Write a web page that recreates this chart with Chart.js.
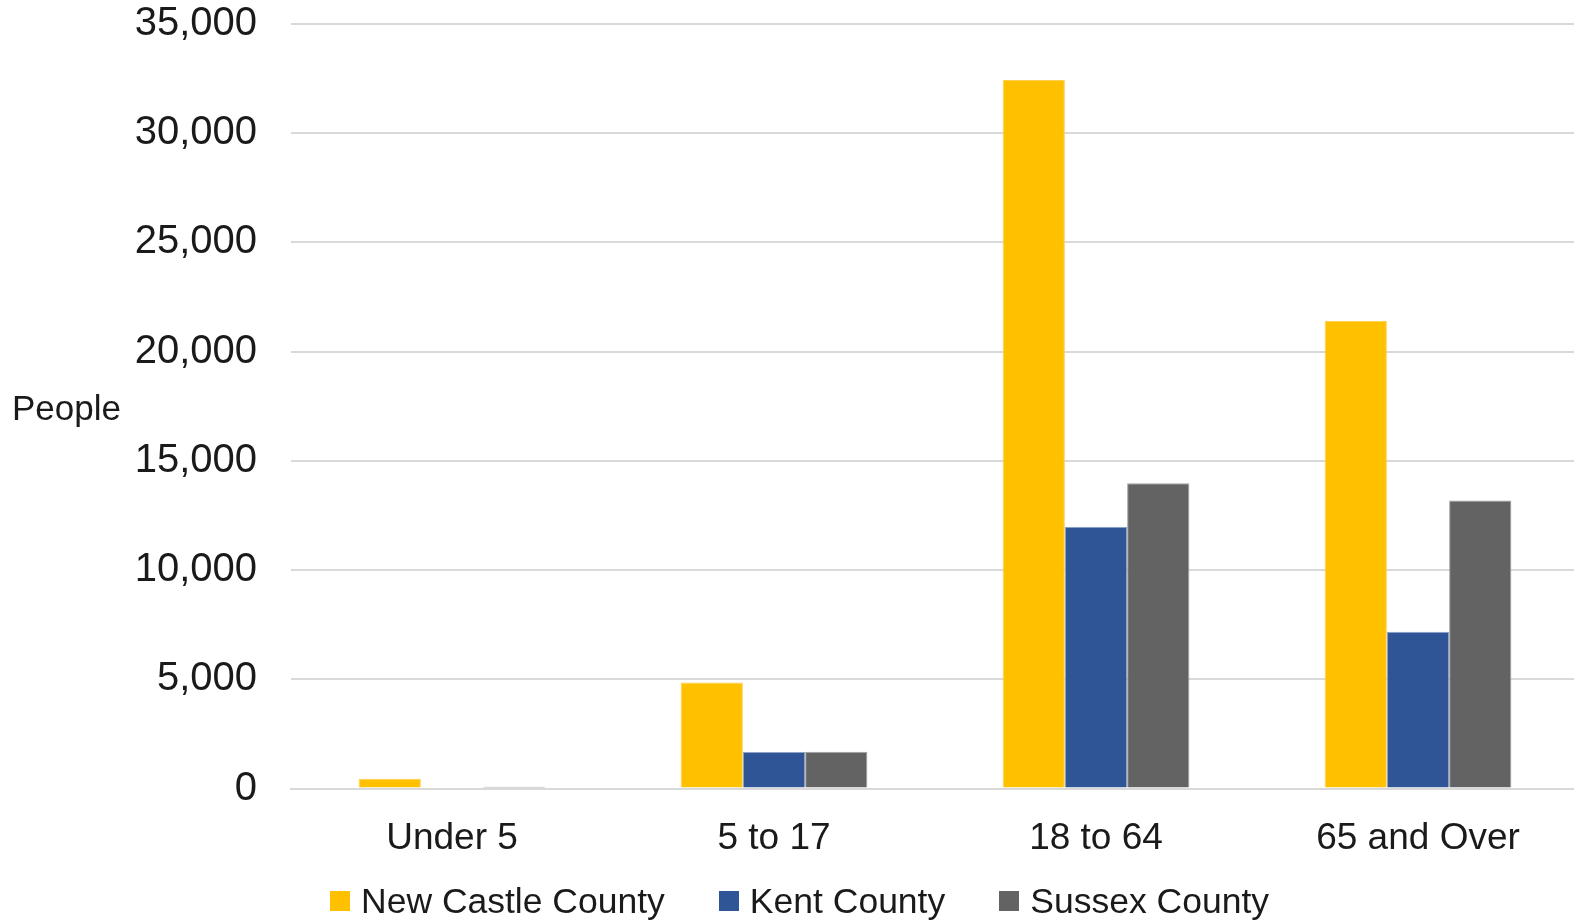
<!DOCTYPE html>
<html>
<head>
<meta charset="utf-8">
<script src="https://cdn.jsdelivr.net/npm/chart.js@4"></script>
<style>
  html, body { margin: 0; padding: 0; background: #fff; overflow: hidden; }
  #wrap { width: 1574px; height: 923px; position: relative; overflow: hidden; }
  #chartBox { position: absolute; left: 0; top: 0; width: 1579px; height: 891px; }
  #legend {
    position: absolute; left: 330px; top: 880px; height: 42px;
    display: flex; align-items: center;
    font-family: 'Liberation Sans', Arial, sans-serif; font-size: 35.5px; color: #1a1a1a;
  }
  .item { display: flex; align-items: center; margin-right: 54px; white-space: nowrap; }
  .box { width: 20px; height: 20px; margin-right: 11px; }
</style>
</head>
<body>
<div id="wrap">
  <div id="chartBox"><canvas id="chart"></canvas></div>
  <div id="legend"></div>
</div>
<script>
  // Chart data
  const ageGroups = ['Under 5', '5 to 17', '18 to 64', '65 and Over'];
  const counties = ['New Castle County', 'Kent County', 'Sussex County'];
  const newCastle = [450, 4860, 32440, 21410];
  const kent = [50, 1680, 11990, 7180];
  const sussex = [90, 1690, 13980, 13190];
  const yTicks = [0, 5000, 10000, 15000, 20000, 25000, 30000, 35000];
  const colors = ['#FFC000', '#2F5597', '#636363'];
  const edgeColors = ['#FFD04D', '#8FA3C8', '#A0A0A0'];

  const FONT = "'Liberation Sans', Arial, sans-serif";

  // Horizontal "People" axis title on the left
  const peopleLabel = {
    id: 'peopleLabel',
    afterDraw(chart) {
      const ctx = chart.ctx;
      const area = chart.chartArea;
      ctx.save();
      ctx.font = '35px ' + FONT;
      ctx.fillStyle = '#1a1a1a';
      ctx.textAlign = 'left';
      ctx.textBaseline = 'middle';
      ctx.fillText('People', 12, (area.top + area.bottom) / 2 + 4);
      ctx.restore();
    }
  };

  const seriesData = [newCastle, kent, sussex];

  const ctx = document.getElementById('chart').getContext('2d');
  new Chart(ctx, {
    type: 'bar',
    data: {
      labels: ageGroups,
      datasets: counties.map((name, i) => ({
        label: name,
        data: seriesData[i],
        backgroundColor: colors[i],
        borderColor: edgeColors[i],
        borderWidth: 1
      }))
    },
    options: {
      responsive: true,
      maintainAspectRatio: false,
      animation: false,
      layout: { padding: { top: 0, right: 0, bottom: 2, left: 0 } },
      datasets: {
        bar: { categoryPercentage: 0.58, barPercentage: 1.0 }
      },
      scales: {
        x: {
          grid: { display: false, drawTicks: false },
          border: { display: true, color: '#d9d9d9', width: 2 },
          ticks: {
            padding: 28,
            color: '#1a1a1a',
            font: { family: FONT, size: 37 }
          }
        },
        y: {
          min: 0,
          max: 35000,
          afterFit(scale) {
            scale.width = 291;
            // keep the tick padding from pushing the plot area down
            scale.paddingTop = 24;
            scale.paddingBottom = 0;
          },
          afterBuildTicks(scale) { scale.ticks = yTicks.map(v => ({ value: v })); },
          grid: { color: '#d9d9d9', lineWidth: 2, drawTicks: false },
          border: { display: false },
          ticks: {
            padding: 34,
            color: '#1a1a1a',
            font: { family: FONT, size: 40 },
            callback: v => v.toLocaleString('en-US')
          }
        }
      },
      plugins: {
        legend: { display: false },
        tooltip: { enabled: false }
      }
    },
    plugins: [peopleLabel]
  });

  // Build the legend
  const legend = document.getElementById('legend');
  counties.forEach((name, i) => {
    const item = document.createElement('div');
    item.className = 'item';
    const box = document.createElement('span');
    box.className = 'box';
    box.style.background = colors[i];
    const text = document.createElement('span');
    text.textContent = name;
    item.appendChild(box);
    item.appendChild(text);
    legend.appendChild(item);
  });
</script>
</body>
</html>
